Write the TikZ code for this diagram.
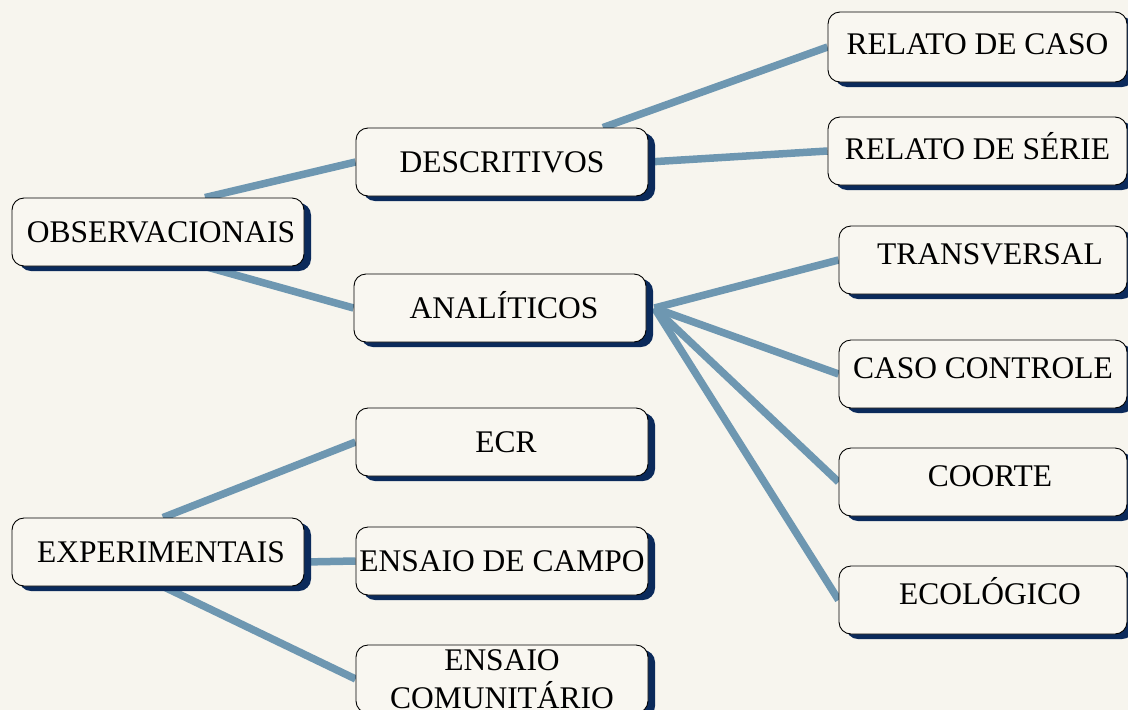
\documentclass[tikz,border=0pt]{standalone}
\usepackage{fontspec}
\setmainfont{Liberation Serif}
\usetikzlibrary{shadows}
\definecolor{paper}{HTML}{F7F5EE}
\definecolor{boxfill}{HTML}{F9F7F1}
\definecolor{navy}{HTML}{0B2A5B}
\definecolor{linkblue}{HTML}{6E97B1}
\pgfdeclarelayer{paperlayer}
\pgfdeclarelayer{linklayer}
\pgfsetlayers{paperlayer,linklayer,main}
\tikzset{
  box/.style={draw=black, line width=0.9pt, fill=boxfill, rounded corners=12pt,
      minimum width=292pt, minimum height=68pt, inner sep=0pt,
      font=\fontsize{31.5}{38}\selectfont,
      drop shadow={shadow xshift=7pt, shadow yshift=-5pt, fill=navy, opacity=1}},
  mid/.style={box, text height=24pt, text depth=4pt},
  leaf/.style={box, minimum width=288pt, text height=24pt, text depth=16pt},
  branch/.style={draw=linkblue, line width=7.5pt},
}

\begin{document}
\begin{tikzpicture}[x=1pt, y=-1pt]
  \begin{pgfonlayer}{paperlayer}
    \fill[paper] (0,0) rectangle (1128,710);
  \end{pgfonlayer}
  \useasboundingbox (0,0) rectangle (1128,710);

  \node[mid] (obs) at (158,232) {\hspace{6pt}OBSERVACIONAIS};
  \node[mid] (exp) at (158,552) {\hspace{6pt}EXPERIMENTAIS};
  \node[mid] (descr) at (502,162) {DESCRITIVOS};
  \node[mid] (anal) at (500,308) {\hspace{8pt}ANALÍTICOS};
  \node[mid] (ecr) at (502,442) {\hspace{8pt}ECR};
  \node[mid] (campo) at (502,561) {ENSAIO DE CAMPO};
  \node[box, align=center] (comun) at (502,679) {ENSAIO\\COMUNITÁRIO};

  \node[leaf, minimum width=299pt, minimum height=70pt, text depth=10pt] (rcaso) at (977.5,47) {RELATO DE CASO};
  \node[leaf, minimum width=299pt, text depth=8pt] (rserie) at (977.5,151) {RELATO DE SÉRIE};
  \node[leaf] (trans) at (983,260) {\hspace{14pt}TRANSVERSAL};
  \node[leaf] (ccont) at (983,374) {CASO CONTROLE\hspace{10pt}};
  \node[leaf] (coorte) at (983,482) {\hspace{14pt}COORTE};
  \node[leaf] (ecol) at (983,600) {\hspace{14pt}ECOLÓGICO};

  \begin{pgfonlayer}{linklayer}
    \draw[branch] ([xshift=47pt]obs.north) -- (descr.west);
    \draw[branch] ([xshift=47pt]obs.south) -- (anal.west);
    \draw[branch] ([xshift=101pt]descr.north) -- (rcaso.west);
    \draw[branch] (descr.east) -- (rserie.west);
    \foreach \leafname in {trans, ccont, coorte, ecol}
      \draw[branch] ([xshift=8pt]anal.east) -- (\leafname.west);
    \draw[branch] ([xshift=5pt]exp.north) -- (ecr.west);
    \draw[branch] ([yshift=-10pt]exp.east) -- (campo.west);
    \draw[branch] ([xshift=5pt]exp.south) -- (comun.west);
  \end{pgfonlayer}
\end{tikzpicture}
\end{document}
